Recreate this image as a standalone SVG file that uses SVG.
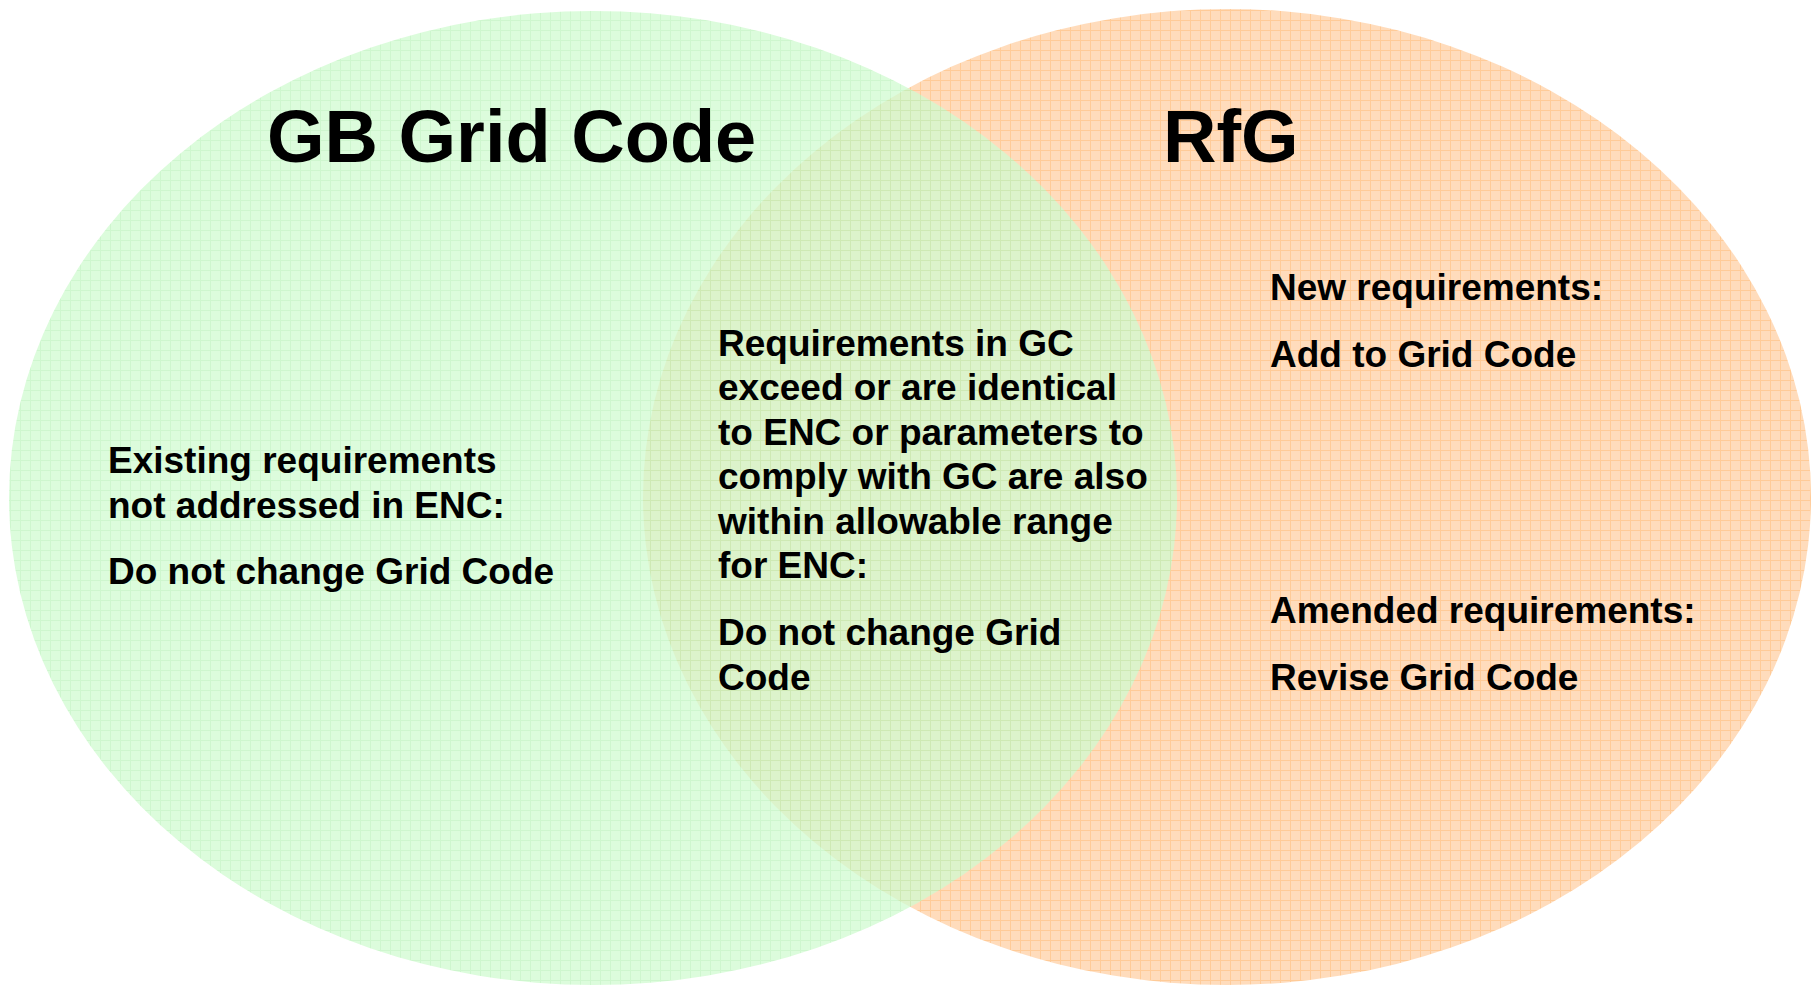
<svg xmlns="http://www.w3.org/2000/svg" width="1818" height="986" viewBox="0 0 1818 986">
  <defs>
    <!-- fine grid textures used as set fills -->
    <pattern id="gridGreen" width="10" height="10" patternUnits="userSpaceOnUse">
      <rect width="10" height="10" fill="#d0fbd0"/>
      <path d="M0 0.5H10M0.5 0V10" stroke="#bdf3bd" stroke-width="1"/>
    </pattern>
    <pattern id="gridOrange" width="10" height="10" patternUnits="userSpaceOnUse">
      <rect width="10" height="10" fill="#ffdcbc"/>
      <path d="M0 0.5H10M0.5 0V10" stroke="#ffcb98" stroke-width="1"/>
    </pattern>
  </defs>
  <style>
    .title { font-family: "Liberation Sans", Arial, sans-serif; font-weight: bold; font-size: 74px; fill: #000; }
    .body { font-family: "Liberation Sans", Arial, sans-serif; font-weight: bold; font-size: 37px; fill: #000; }
  </style>

  <rect width="1818" height="986" fill="#ffffff"/>

  <!-- RfG set (drawn underneath) -->
  <g id="rfg">
    <ellipse cx="1227" cy="497" rx="584" ry="488" fill="url(#gridOrange)"/>
  </g>

  <!-- GB Grid Code set, translucent over the RfG set -->
  <g id="gb-grid-code">
    <ellipse cx="593" cy="498" rx="584" ry="487" fill="url(#gridGreen)" opacity="0.75"/>
  </g>

  <g id="connectors"></g>

  <!-- set titles -->
  <g id="titles">
    <text class="title" x="267" y="162">GB Grid Code</text>
    <text class="title" x="1163" y="162">RfG</text>
  </g>

  <!-- GB Grid Code only -->
  <g id="gc-only">
    <text class="body" x="108" y="473">Existing requirements</text>
    <text class="body" x="108" y="518">not addressed in ENC:</text>
    <text class="body" x="108" y="584">Do not change Grid Code</text>
  </g>

  <!-- intersection -->
  <g id="overlap">
    <text class="body" x="718" y="356">Requirements in GC</text>
    <text class="body" x="718" y="400">exceed or are identical</text>
    <text class="body" x="718" y="445">to ENC or parameters to</text>
    <text class="body" x="718" y="489">comply with GC are also</text>
    <text class="body" x="718" y="534">within allowable range</text>
    <text class="body" x="718" y="578">for ENC:</text>
    <text class="body" x="718" y="645">Do not change Grid</text>
    <text class="body" x="718" y="690">Code</text>
  </g>

  <!-- RfG only -->
  <g id="rfg-only">
    <text class="body" x="1270" y="300">New requirements:</text>
    <text class="body" x="1270" y="367">Add to Grid Code</text>
    <text class="body" x="1270" y="623">Amended requirements:</text>
    <text class="body" x="1270" y="690">Revise Grid Code</text>
  </g>
</svg>
